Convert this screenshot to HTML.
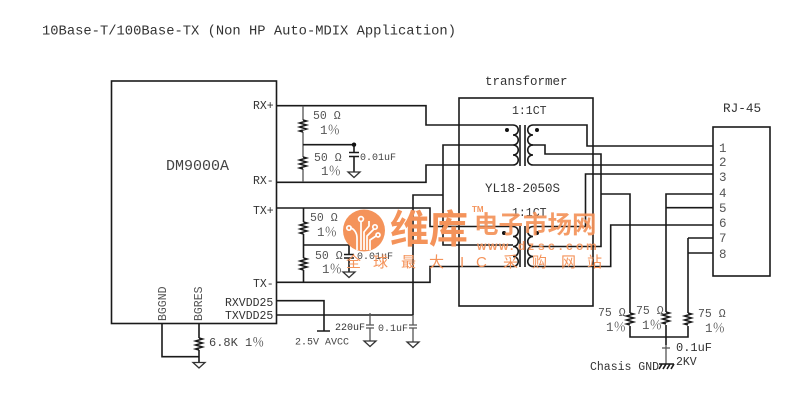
<!DOCTYPE html>
<html><head><meta charset="utf-8"><style>
html,body{margin:0;padding:0;background:#fff;width:800px;height:405px;overflow:hidden}
svg{display:block}
text{font-family:"Liberation Mono","Noto Serif CJK SC",monospace;fill:#333;white-space:pre}
text[fill="#555"]{fill:#555}
text[fill="#444"]{fill:#444}
.w{fill:none;stroke:#1a1a1a;stroke-width:1.6}
.g{fill:none;stroke:#555;stroke-width:1.3}
.r{fill:none;stroke:#1a1a1a;stroke-width:1.5}
.t{fill:#fff;stroke:#333;stroke-width:1.3}
.s{font-size:11.5px}
.p{font-size:12.5px;fill:#555}
.wm{font-family:"Liberation Sans","Noto Sans CJK SC",sans-serif;fill:#f4935a;font-weight:700}
</style></head><body>
<svg width="800" height="405" viewBox="0 0 800 405" xmlns="http://www.w3.org/2000/svg">
<defs>
<path id="res" class="r" d="M0 0l3.5 1 -7 2 7 2 -7 2 7 2 -7 2 3.5 1"/>
<path id="gnd" class="t" d="M-6 0H6L0 5.5Z"/>
<path id="coilL" class="w" d="M505 0H513C520 0 520 10 513 10C520 10 520 20 513 20C520 20 520 30 513 30C520 30 520 40 513 40H505"/>
<path id="coilR" class="w" d="M541 0H533C526 0 526 10 533 10C526 10 526 20 533 20C526 20 526 30 533 30C526 30 526 40 533 40H541"/>
</defs>

<text x="42" y="34.500" style="font-size:13.8px">10Base-T/100Base-TX (Non HP Auto-MDIX Application)</text>
<text x="485" y="85" style="font-size:12.5px">transformer</text>
<text x="723" y="112" style="font-size:12.7px">RJ-45</text>

<!-- chip -->
<rect class="w" x="111.5" y="81" width="165" height="242.5"/>
<text x="166" y="170" style="font-size:15px" fill="#444">DM9000A</text>
<text x="253" y="109" class="s">RX+</text>
<text x="253" y="184" class="s">RX-</text>
<text x="253" y="214" class="s">TX+</text>
<text x="253" y="287" class="s">TX-</text>
<text x="225" y="306" class="s">RXVDD25</text>
<text x="225" y="319" class="s">TXVDD25</text>
<text transform="translate(166,321) rotate(-90)" class="s" fill="#555">BGGND</text>
<text transform="translate(202,321) rotate(-90)" class="s" fill="#555">BGRES</text>

<!-- RX nets -->
<path class="w" d="M277 105.700H426V125H505"/>
<path class="w" d="M277 182.300H426V165H505"/>
<path class="g" d="M303 105.700V120M303 132V157M303 169V182"/>
<use href="#res" x="303" y="120"/><use href="#res" x="303" y="157"/>
<path class="w" d="M303 144.700H354"/>
<circle cx="354" cy="144.700" r="2.200" fill="#111"/>
<path class="w" d="M354 144.700V152.500M354 156.500V172M349 152.500H359M349 156.500H359"/>
<use href="#gnd" x="354" y="172"/>
<text x="313" y="119" class="s" fill="#555">50 Ω</text><text x="320" y="134" class="p">1％</text>
<text x="314" y="161" class="s" fill="#555">50 Ω</text><text x="321" y="175" class="p">1％</text>
<text x="360" y="160" style="font-size:10px" fill="#444">0.01uF</text>

<!-- TX nets -->
<path class="w" d="M277 208H430V226.500H505"/>
<path class="w" d="M277 282.300H430V266.500H505"/>
<path class="w" d="M303.500 208V222M303.500 234V258M303.500 270V282"/>
<use href="#res" x="303.500" y="222"/><use href="#res" x="303.500" y="258"/>
<path class="w" d="M303.500 245H349"/>
<path class="w" d="M349 245V254.500M349 258V272M344 254.500H354M344 258H354"/>
<use href="#gnd" x="349" y="272"/>
<text x="310" y="221" class="s" fill="#555">50 Ω</text><text x="317" y="236" class="p">1％</text>
<text x="315" y="259" class="s" fill="#555">50 Ω</text><text x="322" y="273" class="p">1％</text>
<text x="357" y="259" style="font-size:10px" fill="#444">0.01uF</text>

<!-- power -->
<path class="w" d="M277 300.700H324V331M317 331H330"/>
<path class="w" d="M277 315H413"/>
<path class="w" d="M413 315V195H443V145H513M443 145V245H513"/>
<path class="g" d="M370 313V325M370 328V341M366 325H374M366 328H374M413 315V325M413 328V342M409 325H417M409 328H417"/>
<use href="#gnd" x="370" y="341"/><use href="#gnd" x="413" y="342"/>
<text x="295" y="344.500" style="font-size:10px" fill="#444">2.5V AVCC</text>
<text x="335" y="330" style="font-size:10px" fill="#333">220uF</text>
<text x="378" y="331" style="font-size:10px" fill="#444">0.1uF</text>

<!-- bias -->
<path class="w" d="M162 323.500V356.700H199M199 323.500V338M199 350V362"/>
<use href="#res" x="199" y="338"/>
<use href="#gnd" x="199" y="362.500"/>
<text x="209" y="346" style="font-size:12px" fill="#444">6.8K 1％</text>

<!-- transformer box -->
<rect class="w" x="459" y="98" width="134" height="208"/>
<text x="512" y="114" class="s">1:1CT</text>
<text x="485" y="192" style="font-size:12.5px">YL18-2050S</text>
<text x="512" y="216" class="s">1:1CT</text>

<!-- coils -->
<use href="#coilL" y="125"/><use href="#coilR" y="125"/>
<use href="#coilL" y="226.500"/><use href="#coilR" y="226.500"/>
<path class="w" d="M520 125V166M525 125V166M520 226V267M525 226V267"/>
<circle cx="507" cy="130" r="2" fill="#111"/><circle cx="537" cy="130" r="2" fill="#111"/>
<circle cx="504" cy="233" r="2" fill="#111"/><circle cx="537" cy="233" r="2" fill="#111"/>

<!-- secondary nets -->
<path class="w" d="M541 125H587V146H713"/>
<path class="w" d="M530 145H545V154H601V246.500H530"/>
<path class="w" d="M541 165H713"/>
<path class="w" d="M541 226.500H585.500V174H713"/>
<path class="w" d="M541 266.500H610.700V225H713"/>
<path class="w" d="M601 194H630V313M630 326V337H688V326M688 313V238"/>
<path class="w" d="M713 194H666V312M666 325V345M713 207.700H666"/>
<path class="w" d="M713 238H688M713 253H688"/>
<path class="g" d="M666 345V364M662 348H670"/>
<use href="#res" x="630" y="313"/><use href="#res" x="666" y="312"/><use href="#res" x="688" y="313"/>
<path class="w" d="M659 364H674M662 364l-3 5M666 364l-3 5M670 364l-3 5M674 364l-3 5"/>
<text x="598" y="316" class="s" fill="#555">75 Ω</text><text x="606" y="331" class="p">1％</text>
<text x="636" y="314" class="s" fill="#555">75 Ω</text><text x="642" y="329" class="p">1％</text>
<text x="698" y="317" class="s" fill="#555">75 Ω</text><text x="705" y="332" class="p">1％</text>
<text x="676" y="351" style="font-size:12px">0.1uF</text>
<text x="676" y="365" class="s">2KV</text>
<text x="590" y="370" class="s">Chasis GND</text>

<!-- RJ45 -->
<rect class="w" x="713" y="127" width="57" height="149"/>
<text x="719" y="152" class="p">1</text><text x="719" y="166" class="p">2</text>
<text x="719" y="181" class="p">3</text><text x="719" y="197" class="p">4</text>
<text x="719" y="212" class="p">5</text><text x="719" y="227" class="p">6</text>
<text x="719" y="242" class="p">7</text><text x="719" y="258" class="p">8</text>

<!-- watermark -->
<circle cx="364" cy="230.500" r="21" fill="#f4935a"/>
<g fill="none" stroke="#fff" stroke-width="1.700">
<path d="M357 250V238C357 232 353 228 350 228"/><circle cx="349" cy="228" r="2.200"/>
<path d="M361 250V222"/><circle cx="361" cy="219" r="2.400"/>
<path d="M364 250V232L369 226V221"/>
<path d="M367 250V236L374 229"/><circle cx="375" cy="227" r="2.200"/>
<path d="M370 250V240L376 236"/><circle cx="378" cy="235" r="2"/>
</g>
<text class="wm" x="390" y="243" style="font-size:39px">维库</text>
<text class="wm" x="472" y="212" style="font-size:8px">TM</text>
<text class="wm" x="474" y="233" style="font-size:24.500px" opacity=".92">电子市场网</text>
<text class="wm" x="477 488 499 510 518 528 538 548 559 566 576 586" y="250" style="font-size:12px" opacity=".9">www.dzsc.com</text>
<text class="wm" x="346 373 401 429 460 476 503 532 561 587" y="267" style="font-size:15px;font-weight:400">全球最大IC采购网站</text>
</svg>
</body></html>
